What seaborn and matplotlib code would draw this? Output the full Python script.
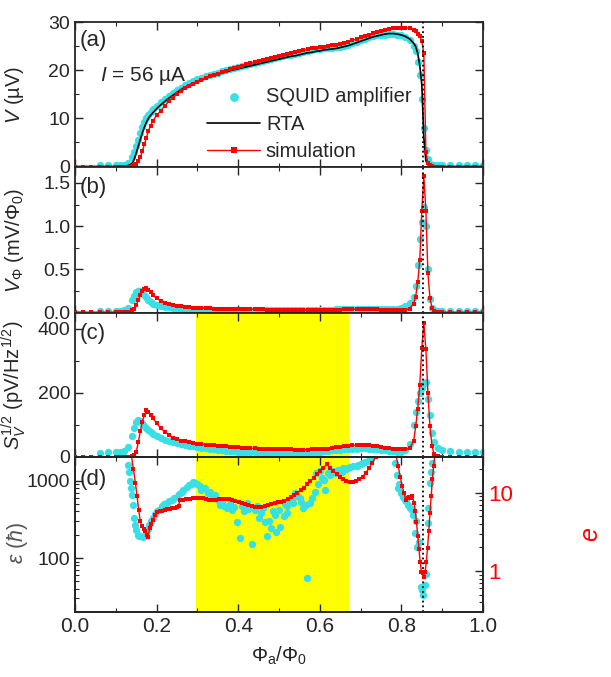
import numpy as np
import pandas as pd
import matplotlib
matplotlib.use('Agg')
import matplotlib.pyplot as plt
import seaborn as sns
from matplotlib.ticker import MultipleLocator, LogLocator, FuncFormatter, NullFormatter

# flux grid shared by panels (a)-(c)
phi = [0.00, 0.02, 0.04, 0.06, 0.08, 0.10, 0.11, 0.12, 0.13,
       0.14, 0.145, 0.15, 0.155, 0.16, 0.165, 0.17, 0.175, 0.18, 0.185, 0.19,
       0.20, 0.21, 0.22, 0.23, 0.24, 0.25, 0.26, 0.27, 0.28, 0.29,
       0.30, 0.31, 0.32, 0.33, 0.34, 0.35, 0.36, 0.37, 0.38, 0.39,
       0.40, 0.41, 0.42, 0.43, 0.44, 0.45, 0.46, 0.47, 0.48, 0.49,
       0.50, 0.51, 0.52, 0.53, 0.54, 0.55, 0.56, 0.57, 0.58, 0.59,
       0.60, 0.61, 0.62, 0.63, 0.64, 0.65, 0.66, 0.67, 0.68, 0.69,
       0.70, 0.71, 0.72, 0.73, 0.74, 0.75, 0.76, 0.77, 0.78, 0.79,
       0.80, 0.81, 0.82, 0.83, 0.835, 0.84, 0.845, 0.85, 0.855, 0.86, 0.865, 0.87, 0.875, 0.88, 0.89,
       0.90, 0.92, 0.94, 0.96, 0.98, 1.00]

nan = np.nan
# (a) V in uV
V_squid = [nan, nan, nan, 0.3, 0.3, 0.3, 0.3, 0.4, 0.8,
           2.0, 3.0, 4.3, 5.6, 7.0, 8.2, 9.2, 10.0, 10.8, 11.4, 11.9,
           12.6, 13.3, 14.0, 14.7, 15.3, 15.9, 16.4, 16.9, 17.3, 17.7,
           18.1, 18.4, 18.7, 19.0, 19.3, 19.5, 19.8, 20.0, 20.3, 20.5,
           20.7, 20.9, 21.1, 21.3, 21.5, 21.7, 21.9, 22.1, 22.3, 22.5,
           22.7, 22.9, 23.1, 23.2, 23.4, 23.6, 23.8, 24.0, 24.1, 24.3,
           24.4, 24.5, 24.6, 24.7, 24.8, 24.9, 25.1, 25.3, 25.6, 25.9,
           26.2, 26.5, 26.8, 27.0, 27.2, 27.3, 27.4, 27.5, 27.5, 27.4,
           27.2, 26.8, 26.2, 25.0, 24.0, 21.7, 19.0, 14.0, 8.0, 3.5, 1.6, 0.6, 0.3, 0.3, 0.3,
           0.3, 0.3, 0.3, 0.3, 0.3, 0.3]
V_rta = [0, 0, 0, 0, 0, 0, 0, 0.1, 0.2,
         0.6, 1.5, 2.8, 4.2, 5.6, 7.0, 8.2, 9.2, 10.0, 10.6, 11.1,
         12.0, 12.8, 13.5, 14.2, 14.8, 15.4, 16.0, 16.5, 16.9, 17.3,
         17.7, 18.0, 18.3, 18.6, 18.9, 19.1, 19.4, 19.6, 19.9, 20.1,
         20.3, 20.5, 20.7, 20.9, 21.1, 21.3, 21.5, 21.7, 21.9, 22.1,
         22.3, 22.5, 22.7, 22.9, 23.0, 23.2, 23.4, 23.6, 23.7, 23.9,
         24.0, 24.2, 24.3, 24.4, 24.5, 24.7, 24.9, 25.1, 25.4, 25.7,
         26.0, 26.3, 26.6, 26.9, 27.1, 27.3, 27.5, 27.6, 27.6, 27.5,
         27.3, 27.0, 26.5, 25.6, 24.9, 23.5, 21.0, 17.0, 6.0, 1.2, 0.4, 0.2, 0.1, 0, 0,
         0, 0, 0, 0, 0, 0]
V_sim = [0, 0, 0, 0, 0, 0, 0, 0, 0,
         0.1, 0.3, 0.6, 1.2, 2.0, 3.2, 4.6, 6.0, 7.4, 8.5, 9.4,
         10.6, 11.6, 12.6, 13.5, 14.3, 15.0, 15.6, 16.2, 16.7, 17.2,
         17.6, 18.0, 18.4, 18.7, 19.0, 19.3, 19.6, 19.9, 20.2, 20.4,
         20.7, 20.9, 21.2, 21.4, 21.6, 21.9, 22.1, 22.3, 22.5, 22.7,
         22.9, 23.1, 23.3, 23.5, 23.7, 23.9, 24.1, 24.3, 24.5, 24.6,
         24.8, 24.9, 25.0, 25.2, 25.3, 25.5, 25.7, 25.9, 26.2, 26.5,
         26.8, 27.1, 27.4, 27.7, 28.0, 28.2, 28.4, 28.6, 28.7, 28.8,
         28.8, 28.8, 28.7, 28.4, 28.1, 27.6, 27.0, 26.0, 23.5, 3.0, 0.8, 0.3, 0.1, 0, 0,
         0, 0, 0, 0, 0, 0]

# (b) V_phi in mV/Phi0
Vphi_squid = [nan, nan, nan, 0.01, 0.01, 0.01, 0.01, 0.02, 0.05,
              0.14, 0.19, 0.23, 0.25, 0.25, 0.23, 0.20, 0.17, 0.14, 0.12, 0.10,
              0.08, 0.07, 0.06, 0.055, 0.05, 0.045, 0.042, 0.04, 0.038, 0.036,
              0.034, 0.033, 0.032, 0.031, 0.03, 0.03, 0.029, 0.029, 0.028, 0.028,
              0.027, 0.026, 0.026, 0.025, 0.025, 0.024, 0.024, 0.023, 0.023, 0.022,
              0.022, 0.022, 0.021, 0.021, 0.021, 0.021, 0.021, 0.022, 0.022, 0.023,
              0.024, 0.025, 0.027, 0.029, 0.031, 0.033, 0.035, 0.037, 0.039, 0.04,
              0.041, 0.041, 0.04, 0.039, 0.037, 0.035, 0.034, 0.034, 0.036, 0.04,
              0.05, 0.07, 0.11, 0.17, 0.30, 0.55, 0.85, 1.05, 1.22, 1.00, 0.50, 0.15, 0.05, 0.02, 0.01,
              0.01, 0.01, 0.01, 0.01, 0.01, 0.01]
Vphi_sim = [0, 0, 0, 0, 0, 0, 0, 0, 0.005,
            0.02, 0.04, 0.08, 0.14, 0.20, 0.25, 0.27, 0.28, 0.26, 0.23, 0.20,
            0.16, 0.13, 0.11, 0.095, 0.085, 0.075, 0.068, 0.062, 0.057, 0.053,
            0.05, 0.048, 0.046, 0.044, 0.042, 0.041, 0.04, 0.039, 0.038, 0.038,
            0.037, 0.036, 0.035, 0.034, 0.033, 0.032, 0.031, 0.030, 0.029, 0.028,
            0.028, 0.027, 0.027, 0.026, 0.026, 0.025, 0.025, 0.025, 0.025, 0.025,
            0.025, 0.026, 0.027, 0.028, 0.029, 0.030, 0.031, 0.032, 0.033, 0.034,
            0.035, 0.035, 0.034, 0.033, 0.032, 0.030, 0.028, 0.026, 0.024, 0.022,
            0.02, 0.025, 0.04, 0.10, 0.18, 0.35, 0.60, 1.18, 1.58, 1.18, 0.45, 0.16, 0.05, 0.01, 0,
            0, 0, 0, 0, 0, 0]

# (c) S_V^1/2 in pV/Hz^1/2
S_squid = [nan, nan, nan, 12, 14, 15, 15, 18, 30,
           65, 90, 108, 115, 112, 105, 97, 90, 84, 78, 73,
           65, 58, 53, 49, 46, 43, 40, 37, 35, 33,
           31, 29, 27, 25, 23, 21, 20, 19, 18, 17,
           16, 15, 15, 14, 14, 13, 13, 13, 12, 12,
           12, 12, 12, 12, 12, 13, 13, 13, 14, 15,
           16, 17, 18, 20, 21, 22, 23, 24, 25, 26,
           27, 27, 26, 25, 23, 22, 20, 18, 17, 16,
           15, 20, 40, 100, 140, 175, 200, 215, 230, 235, 180, 130, 75, 45, 28,
           22, 18, 15, 14, 15, 16]
S_sim = [0, 0, 0, 0, 0, 0, 0, 0, 0,
         2, 5, 15, 45, 80, 110, 132, 145, 140, 132, 122,
         105, 90, 78, 68, 60, 55, 51, 48, 45, 42,
         40, 39, 38, 37, 36, 35, 34, 33, 32, 31,
         30, 29, 28, 27, 27, 26, 26, 25, 25, 24,
         24, 23, 23, 23, 22, 22, 22, 22, 23, 23,
         24, 25, 26, 28, 30, 32, 33, 35, 36, 37,
         38, 38, 37, 35, 33, 31, 29, 27, 26, 25,
         24, 24, 27, 50, 95, 150, 225, 340, 420, 336, 200, 95, 35, 8, 2,
         0, 0, 0, 0, 0, 0]

# (d) energy resolution from SQUID amplifier (left, units of hbar)
eps_phi = [0.129, 0.132, 0.135, 0.137, 0.140, 0.141, 0.145, 0.147, 0.150, 0.155, 0.158, 0.166, 0.170, 0.174,
           0.178, 0.182, 0.186, 0.190, 0.195, 0.200, 0.205, 0.212, 0.218, 0.225, 0.230, 0.237, 0.243, 0.249,
           0.255, 0.261, 0.265, 0.274, 0.280, 0.286, 0.290, 0.294, 0.298, 0.306, 0.310, 0.319, 0.325, 0.331,
           0.335, 0.343, 0.350, 0.355, 0.360, 0.365, 0.372, 0.380, 0.384, 0.390, 0.396, 0.404, 0.410, 0.415,
           0.421, 0.425, 0.433, 0.440, 0.445, 0.450, 0.457, 0.460, 0.465, 0.470, 0.475, 0.480, 0.485, 0.490,
           0.493, 0.500, 0.503, 0.511, 0.515, 0.519, 0.520, 0.525, 0.531, 0.535, 0.539, 0.545, 0.551, 0.555,
           0.560, 0.565, 0.568, 0.576, 0.580, 0.588, 0.591, 0.595, 0.600, 0.605, 0.610, 0.613, 0.621, 0.625,
           0.633, 0.640, 0.645, 0.655, 0.658, 0.665, 0.670, 0.675, 0.682, 0.690, 0.694, 0.700, 0.706, 0.710,
           0.719, 0.725, 0.784, 0.790, 0.792, 0.795, 0.800, 0.805, 0.809, 0.812, 0.817, 0.820, 0.825, 0.829,
           0.833, 0.835, 0.839, 0.842, 0.847, 0.850, 0.854, 0.858, 0.860, 0.864, 0.866, 0.870, 0.872, 0.874]
eps_val = [1610, 1300, 1000, 800, 650, 490, 330, 270, 230, 200, 195, 185, 190, 210,
           240, 270, 300, 330, 370, 400, 420, 465, 500, 520, 540, 565, 600, 625,
           680, 725, 760, 830, 880, 905, 960, 930, 900, 845, 760, 805, 700, 725,
           620, 660, 560, 490, 520, 470, 440, 500, 420, 460, 295, 180, 470, 400,
           515, 430, 150, 420, 465, 330, 380, 440, 290, 190, 300, 245, 400, 360,
           220, 420, 255, 345, 500, 465, 380, 560, 565, 520, 690, 640, 595, 530,
           440, 480, 55, 515, 600, 725, 1260, 900, 1320, 1100, 1030, 765, 1260, 1180,
           1320, 1250, 1390, 1300, 1460, 1400, 1460, 1500, 1530, 1550, 1610, 1650, 1700, 1750,
           1780, 1900, 1700, 1200, 805, 900, 690, 620, 565, 540, 490, 450, 420, 360,
           210, 300, 140, 160, 42, 38, 33, 45, 63, 280, 450, 930, 1300, 1700]

# (d) simulation (right axis, e)
e_phi = [0.138, 0.143, 0.148, 0.152, 0.156, 0.160, 0.164, 0.168, 0.172, 0.176, 0.179, 0.183, 0.187, 0.191,
         0.196, 0.202, 0.208, 0.214, 0.220, 0.226, 0.232, 0.238, 0.244, 0.250, 0.254, 0.257, 0.265, 0.273,
         0.281, 0.289, 0.297, 0.305, 0.313, 0.321, 0.329, 0.337, 0.345, 0.353, 0.361, 0.369, 0.377, 0.385,
         0.393, 0.401, 0.409, 0.417, 0.425, 0.433, 0.441, 0.449, 0.457, 0.465, 0.473, 0.481, 0.489, 0.497,
         0.505, 0.513, 0.521, 0.529, 0.537, 0.545, 0.553, 0.561, 0.569, 0.577, 0.585, 0.593, 0.601, 0.609,
         0.617, 0.625, 0.633, 0.641, 0.649, 0.657, 0.665, 0.673, 0.681, 0.689, 0.697, 0.705, 0.713, 0.721,
         0.729, 0.737, 0.745, 0.785, 0.792, 0.797, 0.802, 0.806, 0.811, 0.815, 0.819, 0.823, 0.827, 0.831,
         0.834, 0.837, 0.840, 0.843, 0.846, 0.849, 0.852, 0.855, 0.858, 0.861, 0.864, 0.867, 0.870, 0.873,
         0.876, 0.879, 0.882]
e_val = [30, 20, 13.3, 9.0, 6.0, 4.3, 3.7, 3.4, 3.2, 2.9, 2.75, 3.5, 4.0, 4.5,
         5.2, 5.6, 5.8, 5.9, 6.0, 6.1, 6.2, 6.3, 6.4, 6.6, 6.8, 8.1, 8.1, 8.2,
         8.3, 8.4, 8.5, 8.5, 8.4, 8.2, 8.1, 8.0, 8.1, 8.2, 8.3, 8.3, 8.2, 8.0,
         7.8, 7.5, 7.3, 7.1, 6.9, 6.7, 6.6, 6.5, 6.6, 6.7, 6.9, 7.1, 7.3, 7.5,
         7.6, 7.8, 8.2, 8.7, 9.3, 10.0, 10.8, 11.6, 12.7, 14.0, 15.5, 17.2, 19.0, 20.8,
         22.8, 20.7, 18.7, 17.2, 16.0, 14.8, 14.0, 13.5, 13.7, 14.0, 14.8, 16.0, 18.0, 20.5,
         24.0, 28.5, 33, 33, 22, 16, 12, 10.0, 8.1, 8.6, 8.9, 8.5, 9.0, 7.4,
         5.8, 4.2, 2.8, 1.9, 1.3, 0.98, 0.95, 0.84, 0.98, 1.3, 1.95, 3.2, 5.5, 9.0,
         15, 22, 30]

phi_dot = 0.854
band = (0.297, 0.671)

cyan = '#38e0e6'
red = '#ff0000'

sns.set_style('ticks')
plt.rcParams['font.family'] = ['Liberation Sans', 'DejaVu Sans']
plt.rcParams['mathtext.fontset'] = 'custom'
plt.rcParams['mathtext.rm'] = 'Liberation Sans'
plt.rcParams['mathtext.it'] = 'Liberation Sans:italic'
plt.rcParams['mathtext.bf'] = 'Liberation Sans:bold'
plt.rcParams['axes.linewidth'] = 1.3
plt.rcParams['xtick.direction'] = 'in'
plt.rcParams['ytick.direction'] = 'in'

fig = plt.figure(figsize=(6.11, 6.77), dpi=100)
gs = fig.add_gridspec(4, 1, left=0.1228, right=0.7905, top=0.9675, bottom=0.096,
                      hspace=0, height_ratios=[145, 145, 144, 154])
axes = [fig.add_subplot(gs[i]) for i in range(4)]

df = pd.DataFrame({'phi': phi, 'V_squid': V_squid, 'V_rta': V_rta, 'V_sim': V_sim,
                   'Vphi_squid': Vphi_squid, 'Vphi_sim': Vphi_sim,
                   'S_squid': S_squid, 'S_sim': S_sim})
d_eps = pd.DataFrame({'phi': eps_phi, 'eps': eps_val})
d_e = pd.DataFrame({'phi': e_phi, 'e': e_val})

tick_fs = 14
lab_fs = 14.5

#(a) voltage
ax = axes[0]
sns.scatterplot(data=df, x='phi', y='V_squid', ax=ax, color=cyan, s=28, linewidth=0,
                label='SQUID amplifier', zorder=2)
sns.lineplot(data=df, x='phi', y='V_rta', ax=ax, color='black', lw=1.2, label='RTA',
             sort=False, estimator=None, zorder=3)
sns.lineplot(data=df, x='phi', y='V_sim', ax=ax, color=red, lw=1, marker='s', markersize=3.5,
             markeredgewidth=0, label='simulation', sort=False, estimator=None, zorder=4)
ax.set_ylim(-0.2, 30)
ax.yaxis.set_major_locator(MultipleLocator(10))
ax.yaxis.set_minor_locator(MultipleLocator(5))
ax.set_ylabel(r'$V$ (µV)', fontsize=lab_fs)
ax.text(0.012, 0.875, '(a)', transform=ax.transAxes, fontsize=16, va='center')
ax.text(0.06, 0.63, r'$I$ = 56 µA', transform=ax.transAxes, fontsize=15, va='center')
h, l = ax.get_legend_handles_labels()
order = [l.index(k) for k in ['SQUID amplifier', 'RTA', 'simulation']]
ax.legend([h[i] for i in order], [l[i] for i in order], loc='upper left',
          bbox_to_anchor=(0.30, 0.62), frameon=False, fontsize=14.5, handlelength=2.6,
          handletextpad=0.3, labelspacing=0.42, borderpad=0, markerscale=1.2)

#(b) transfer function
ax = axes[1]
sns.scatterplot(data=df, x='phi', y='Vphi_squid', ax=ax, color=cyan, s=28, linewidth=0, zorder=2)
sns.lineplot(data=df, x='phi', y='Vphi_sim', ax=ax, color=red, lw=1, marker='s', markersize=3.5,
             markeredgewidth=0, sort=False, estimator=None, zorder=4)
ax.set_ylim(-0.01, 1.68)
ax.yaxis.set_major_locator(MultipleLocator(0.5))
ax.yaxis.set_minor_locator(MultipleLocator(0.25))
ax.set_ylabel(r'$V_\Phi$ (mV/$\Phi_0$)', fontsize=lab_fs)
ax.text(0.012, 0.86, '(b)', transform=ax.transAxes, fontsize=16, va='center')

#(c) noise
ax = axes[2]
ax.axvspan(band[0], band[1], color='yellow', lw=0, zorder=0)
sns.scatterplot(data=df, x='phi', y='S_squid', ax=ax, color=cyan, s=28, linewidth=0, zorder=2)
sns.lineplot(data=df, x='phi', y='S_sim', ax=ax, color=red, lw=1, marker='s', markersize=3.5,
             markeredgewidth=0, sort=False, estimator=None, zorder=4)
ax.set_ylim(-2, 450)
ax.yaxis.set_major_locator(MultipleLocator(200))
ax.yaxis.set_minor_locator(MultipleLocator(100))
ax.set_ylabel(r'$S_V^{1/2}$ (pV/Hz$^{1/2}$)', fontsize=lab_fs)
ax.text(0.012, 0.86, '(c)', transform=ax.transAxes, fontsize=16, va='center')

#(d) energy resolution
ax = axes[3]
ax.axvspan(band[0], band[1], color='yellow', lw=0, zorder=0)
sns.scatterplot(data=d_eps, x='phi', y='eps', ax=ax, color=cyan, s=28, linewidth=0, zorder=2)
ax.set_yscale('log')
ax.set_ylim(20, 2000)
ax.yaxis.set_major_locator(LogLocator(base=10))
ax.yaxis.set_minor_locator(LogLocator(base=10, subs=np.arange(2, 10)))
ax.yaxis.set_major_formatter(FuncFormatter(lambda v, p: f'{v:g}'))
ax.yaxis.set_minor_formatter(NullFormatter())
ax.set_ylabel(r'$\epsilon$ ($\hbar$)', fontsize=lab_fs + 1, color='#555555')
ax.text(0.012, 0.86, '(d)', transform=ax.transAxes, fontsize=16, va='center')
ax2 = ax.twinx()
sns.lineplot(data=d_e, x='phi', y='e', ax=ax2, color=red, lw=1, marker='s', markersize=3.5,
             markeredgewidth=0, sort=False, estimator=None)
ax2.set_yscale('log')
ax2.set_ylim(0.3, 28)
ax2.yaxis.set_major_locator(LogLocator(base=10))
ax2.yaxis.set_minor_locator(LogLocator(base=10, subs=np.arange(2, 10)))
ax2.yaxis.set_major_formatter(FuncFormatter(lambda v, p: f'{v:g}'))
ax2.yaxis.set_minor_formatter(NullFormatter())
ax2.tick_params(axis='y', which='both', direction='in', labelsize=tick_fs + 2, labelcolor=red)
ax2.tick_params(axis='y', which='major', length=6, width=1)
ax2.tick_params(axis='y', which='minor', length=3, width=0.8)
ax2.set_ylabel(r'$e$', fontsize=18, color=red)
ax2.yaxis.set_label_coords(1.235, 0.5)
ax2.set_xlim(0, 1)

for i, ax in enumerate(axes):
    ax.axvline(phi_dot, color='black', ls=':', lw=1.3, zorder=5)
    ax.set_xlim(0, 1)
    ax.xaxis.set_major_locator(MultipleLocator(0.2))
    ax.xaxis.set_minor_locator(MultipleLocator(0.1))
    ax.tick_params(which='both', direction='in', top=True, right=(i < 3), labelsize=tick_fs)
    ax.tick_params(which='major', length=6, width=1)
    ax.tick_params(which='minor', length=3, width=0.8)
    ax.yaxis.set_label_coords(-0.12, 0.5)
    if i < 3:
        ax.set_xlabel('')
        ax.tick_params(labelbottom=False)
    if ax.get_legend() is not None and i > 0:
        ax.get_legend().remove()

axes[2].yaxis.set_label_coords(-0.115, 0.5)
axes[3].yaxis.set_label_coords(-0.11, 0.45)
axes[3].set_xlabel(r'$\Phi_\mathrm{a}/\Phi_0$', fontsize=lab_fs, labelpad=6)
axes[3].set_xticks([0.0, 0.2, 0.4, 0.6, 0.8, 1.0])
axes[3].set_xticklabels(['0.0', '0.2', '0.4', '0.6', '0.8', '1.0'])
axes[3].tick_params(axis='x', labelsize=tick_fs + 1)

fig.savefig('out.png', dpi=100)
plt.close()
